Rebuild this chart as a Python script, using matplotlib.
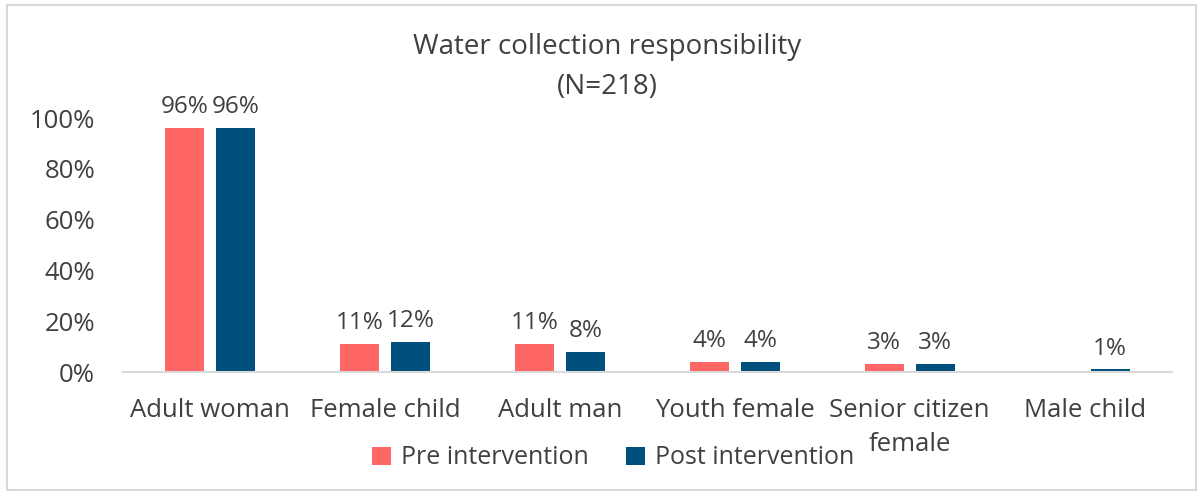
import matplotlib
matplotlib.use("Agg")
import matplotlib.pyplot as plt
from matplotlib.patches import Rectangle
import numpy as np

categories = ["Adult woman", "Female child", "Adult man", "Youth female",
              "Senior citizen\nfemale", "Male child"]
pre_values = [96, 11, 11, 4, 3, 0]
post_values = [96, 12, 8, 4, 3, 1]
series_names = ["Pre intervention", "Post intervention"]
yticks = [0, 20, 40, 60, 80, 100]

PRE_COLOR = "#FF6666"
POST_COLOR = "#004F7C"
TEXT_COLOR = "#404040"
FS = 18.5

plt.rcParams["font.family"] = ["Open Sans", "DejaVu Sans"]

W, H = 1203, 495
fig = plt.figure(figsize=(W / 100, H / 100), dpi=100)

def fx(px):
    return px / W

def fy(py):
    return 1 - py / H

ax = fig.add_axes([fx(123), fy(372), fx(1172) - fx(123), fy(118) - fy(372)])

x = np.arange(len(categories))
bw = 0.223
off = 0.146
bars_pre = ax.bar(x - off, pre_values, bw, color=PRE_COLOR, label=series_names[0])
bars_post = ax.bar(x + off, post_values, bw, color=POST_COLOR, label=series_names[1])

for bars, vals in ((bars_pre, pre_values), (bars_post, post_values)):
    for b, v in zip(bars, vals):
        if v == 0:
            continue
        ax.text(b.get_x() + b.get_width() / 2, v + 3.5, f"{v}%", ha="center",
                va="bottom", fontsize=17.5, color=TEXT_COLOR)

ax.set_xlim(-0.5, len(categories) - 0.5)
ax.set_ylim(0, 100)
ax.set_yticks(yticks)
ax.set_yticklabels([f"{t}%" for t in yticks])
ax.set_xticks(x)
ax.set_xticklabels(categories, linespacing=1.45)
ax.tick_params(axis="both", length=0, labelsize=FS, colors=TEXT_COLOR)
ax.tick_params(axis="x", pad=19)
ax.tick_params(axis="y", pad=20)
for s in ("top", "right", "left"):
    ax.spines[s].set_visible(False)
ax.spines["bottom"].set_color("#D9D9D9")
ax.spines["bottom"].set_linewidth(1.5)

fig.text(fx(607), fy(47), "Water collection responsibility", ha="center",
         va="center", fontsize=20, color=TEXT_COLOR)
fig.text(fx(607), fy(87), "(N=218)", ha="center", va="center",
         fontsize=20, color=TEXT_COLOR)

fig.legend(loc="center", bbox_to_anchor=(fx(613), fy(458)), ncol=2, frameon=False,
           fontsize=18, labelcolor=TEXT_COLOR, handlelength=0.75, handleheight=0.75,
           handletextpad=0.4, columnspacing=1.5)

fig.patches.append(Rectangle((fx(7), fy(490)), fx(1196) - fx(7), fy(5) - fy(490),
                             transform=fig.transFigure, fill=False,
                             edgecolor="#D9D9D9", linewidth=1.5))

fig.savefig("out.png", dpi=100)
